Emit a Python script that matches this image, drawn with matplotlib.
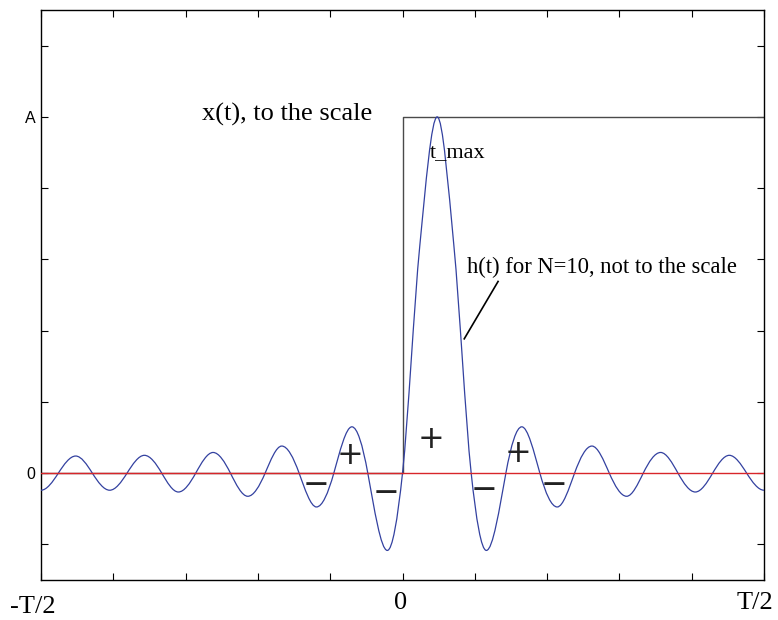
import numpy as np
import matplotlib
matplotlib.use("Agg")
import matplotlib.pyplot as plt
from matplotlib.path import Path
from matplotlib.patches import PathPatch

# ---- data (t in units of T, amplitudes in units of A) ----
# knots of h(t): zero crossings and extrema
t_knots = [-0.500, -0.476, -0.452, -0.429, -0.405, -0.381, -0.357, -0.333,
           -0.310, -0.286, -0.262, -0.238, -0.214, -0.190, -0.167, -0.143,
           -0.119, -0.095, -0.070, -0.048, -0.021, 0.000, 0.024, 0.048,
           0.071, 0.095, 0.116, 0.143, 0.165, 0.190, 0.214, 0.238, 0.262,
           0.286, 0.310, 0.333, 0.357, 0.381, 0.405, 0.429, 0.452, 0.476,
           0.500]
h_knots = [-0.048, 0, 0.048, 0, -0.048, 0, 0.050, 0,
           -0.053, 0, 0.058, 0, -0.065, 0, 0.076, 0,
           -0.095, 0, 0.130, 0, -0.217, 0, 0.64, 1.0,
           0.64, 0, -0.217, 0, 0.130, 0, -0.095, 0, 0.076,
           0, -0.065, 0, 0.058, 0, -0.053, 0, 0.050, 0,
           -0.048]
assert len(t_knots) == len(h_knots)

# step input x(t)
step_t = [-0.5, 0.0, 0.0, 0.5]
step_x = [0.0, 0.0, 1.0, 1.0]

xtick_pos = [-0.5, -0.4, -0.3, -0.2, -0.1, 0.0, 0.1, 0.2, 0.3, 0.4, 0.5]
ytick_pos = [-0.2, 0.0, 0.2, 0.4, 0.6, 0.8, 1.0, 1.2]
ytick_labels = ["", "0", "", "", "", "", "A", ""]

signs = ["\u2212", "+", "\u2212", "+", "\u2212", "+", "\u2212"]
sign_t = [-0.119, -0.072, -0.0225, 0.040, 0.113, 0.160, 0.209]
sign_y = [-0.034, 0.050, -0.058, 0.095, -0.049, 0.055, -0.034]

# ---- figure ----
W, H = 778, 620
fig = plt.figure(figsize=(W / 100, H / 100), dpi=100)
ax = fig.add_axes([41 / W, 1 - 580 / H, (764 - 41) / W, (580 - 10) / H])
ax.set_xlim(-0.5, 0.5)
ax.set_ylim(-0.3, 1.3)

# smooth curve through the knots (Hermite -> cubic Bezier)
t = np.asarray(t_knots, float)
h = np.asarray(h_knots, float)
n = len(t)
slopes = np.zeros(n)
def is_ext(i):
    if i == 0 or i == n - 1:
        return True
    return (h[i] - h[i - 1]) * (h[i + 1] - h[i]) < 0
for i in range(1, n - 1):
    if is_ext(i):
        slopes[i] = 0.0
    else:
        cr = (h[i + 1] - h[i - 1]) / (t[i + 1] - t[i - 1])
        if h[i] == 0 and is_ext(i - 1) and is_ext(i + 1):
            cr *= np.pi / 2
        slopes[i] = cr
verts = [(t[0], h[0])]
codes = [Path.MOVETO]
for i in range(n - 1):
    dt = t[i + 1] - t[i]
    verts += [(t[i] + dt / 3, h[i] + slopes[i] * dt / 3),
              (t[i + 1] - dt / 3, h[i + 1] - slopes[i + 1] * dt / 3),
              (t[i + 1], h[i + 1])]
    codes += [Path.CURVE4] * 3
ax.add_patch(PathPatch(Path(verts, codes), fill=False, edgecolor="#3341a0",
                       lw=0.9, zorder=3))

ax.plot(step_t, step_x, color="#4a4a4a", lw=1.0, zorder=2)
ax.axhline(0, color="#d8262a", lw=1.0, zorder=4)

# ticks
ax.set_xticks(xtick_pos)
ax.set_xticklabels([""] * len(xtick_pos))
ax.set_yticks(ytick_pos)
ax.set_yticklabels(ytick_labels, fontfamily="Liberation Sans", fontsize=11.5)
ax.tick_params(direction="in", length=5, width=0.8, top=True, right=True,
               pad=4, colors="black")
for s in ax.spines.values():
    s.set_linewidth(1.0)

serif = "Liberation Serif"
bt = ax.get_xaxis_transform()
ax.text(-0.5115, -0.0580, "-T/2", transform=bt, ha="center", va="baseline",
        fontfamily=serif, fontsize=19)
ax.text(-0.002, -0.0509, "0", transform=bt, ha="center", va="baseline",
        fontfamily=serif, fontsize=19)
ax.text(0.4875, -0.0509, "T/2", transform=bt, ha="center", va="baseline",
        fontfamily=serif, fontsize=19)

# annotations
ax.text(-0.278, 0.989, "x(t), to the scale", ha="left", va="baseline",
        fontfamily=serif, fontsize=19)
ax.text(0.038, 0.887, "t_max", ha="left", va="baseline",
        fontfamily=serif, fontsize=16)
ax.text(0.0895, 0.563, "h(t) for N=10, not to the scale", ha="left",
        va="baseline", fontfamily=serif, fontsize=16.3)
ax.plot([0.1322, 0.0854], [0.538, 0.377], color="black", lw=1.2, zorder=5)

for s_, st, sy in zip(signs, sign_t, sign_y):
    ax.text(st, sy, s_, ha="center", va="center", fontfamily="DejaVu Sans",
            fontsize=23, color="#222222", zorder=6)

fig.savefig("out.png", dpi=100)
